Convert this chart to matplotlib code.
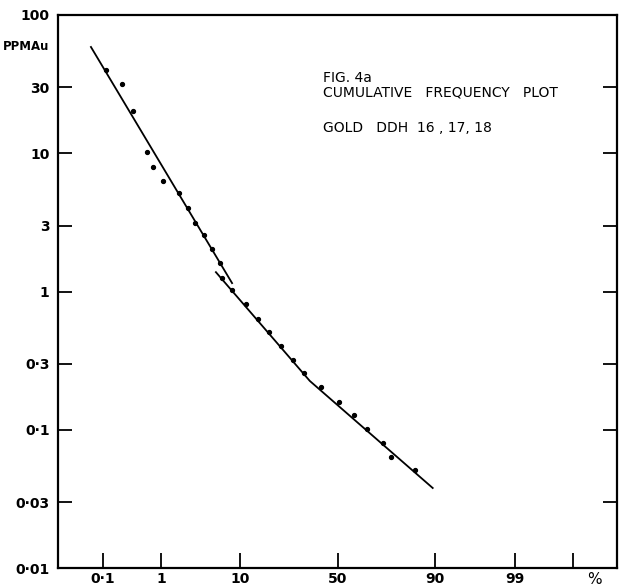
import numpy as np
import matplotlib
matplotlib.use('Agg')
import matplotlib.pyplot as plt
from statistics import NormalDist

# cumulative frequency (%) vs gold (ppm)
cum_pct = [0.114, 0.226, 0.35, 0.60, 0.75, 1.07, 1.83, 2.43, 3.0, 3.9, 4.9, 6.0, 6.4, 8.2,
           11.3, 14.6, 18.2, 22.7, 27.7, 32.7, 41.2, 50.5, 58.3, 64.8, 72.3, 75.7, 84.4]
ppm_au = [40.0, 31.7, 20.2, 10.2, 7.96, 6.3, 5.16, 4.02, 3.13, 2.56, 2.03, 1.61, 1.25, 1.03,
          0.812, 0.632, 0.509, 0.404, 0.320, 0.257, 0.204, 0.159, 0.128, 0.101, 0.0802, 0.0635, 0.0512]

# fitted lines
fit1_pct = [0.058, 8.2]
fit1_ppm = [58.7, 1.15]
fit2_pct = [5.43, 35.6, 89.4]
fit2_ppm = [1.38, 0.2255, 0.0379]

x_ticks = [0.1, 1, 10, 50, 90, 99, 99.9]
x_labels = ['0·1', '1', '10', '50', '90', '99', '']
y_ticks = [0.01, 0.03, 0.1, 0.3, 1, 3, 10, 30, 100]
y_labels = ['0·01', '0·03', '0·1', '0·3', '1', '3', '10', '30', '100']

nd = NormalDist()
_ppf = np.vectorize(nd.inv_cdf, otypes=[float])
_cdf = np.vectorize(nd.cdf, otypes=[float])


def fwd(p):
    p = np.clip(np.asarray(p, dtype=float), 1e-7, 100 - 1e-7)
    return _ppf(p / 100.0)


def inv(z):
    return _cdf(np.asarray(z, dtype=float)) * 100.0


fig = plt.figure(figsize=(6.26, 5.87), dpi=100)
ax = fig.add_axes([58 / 626, 1 - 568 / 587, 559 / 626, 553 / 587])
ax.set_xscale('function', functions=(fwd, inv))
ax.set_yscale('log')

ax.plot(fit1_pct, fit1_ppm, color='black', lw=1.3)
ax.plot(fit2_pct, fit2_ppm, color='black', lw=1.3)
ax.plot(cum_pct, ppm_au, 'o', color='black', ms=2.8)

ax.set_xlim(0.01157, 99.988)
ax.set_ylim(0.01, 100)

ax.set_xticks(x_ticks, x_labels)
ax.set_xticks([99.964], ['%'], minor=True)
ax.set_yticks(y_ticks, y_labels)
ax.yaxis.set_minor_locator(matplotlib.ticker.NullLocator())

ax.tick_params(axis='x', which='major', direction='in', length=11, width=1.3, pad=3, labelsize=10)
ax.tick_params(axis='x', which='minor', length=0, pad=3, labelsize=11)
ax.tick_params(axis='y', which='major', direction='in', length=10, width=1.3, pad=6,
               labelsize=10, right=True)
for lab in ax.get_xticklabels() + ax.get_yticklabels():
    lab.set_fontweight('bold')

for s in ax.spines.values():
    s.set_linewidth(1.6)

fig.text(3 / 626, 1 - 47 / 587, 'PPMAu', fontsize=8.5, fontweight='bold', va='center', ha='left')

ax.text(0.474, (568 - 82) / 553, 'FIG. 4a', transform=ax.transAxes, fontsize=10,
        va='baseline', ha='left')
ax.text(0.474, (568 - 97) / 553, 'CUMULATIVE   FREQUENCY   PLOT', transform=ax.transAxes,
        fontsize=10, va='baseline', ha='left')
ax.text(0.474, (568 - 131.5) / 553, 'GOLD   DDH  16 , 17, 18', transform=ax.transAxes,
        fontsize=10, va='baseline', ha='left')

fig.savefig('out.png', dpi=100)
